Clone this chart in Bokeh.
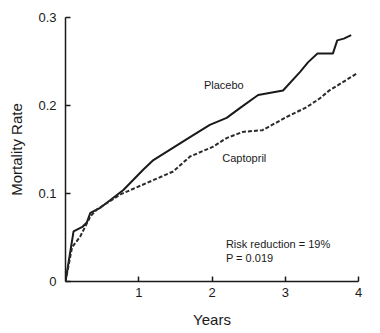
from bokeh.plotting import figure
from bokeh.models import Range1d, Label, FixedTicker
from bokeh.embed import file_html
from bokeh.resources import INLINE

placebo_years = [0, 0.11, 0.23, 0.29, 0.34, 0.48, 0.79, 1.06, 1.2, 1.45, 1.7, 1.97, 2.2, 2.38, 2.63, 2.97, 3.2, 3.31, 3.44, 3.65, 3.71, 3.8, 3.9]
placebo_rate = [0, 0.057, 0.062, 0.067, 0.078, 0.084, 0.104, 0.127, 0.138, 0.151, 0.164, 0.178, 0.186, 0.197, 0.212, 0.217, 0.238, 0.249, 0.259, 0.259, 0.274, 0.276, 0.28]

captopril_years = [0, 0.09, 0.2, 0.34, 0.43, 0.75, 1.11, 1.47, 1.7, 2.01, 2.2, 2.42, 2.69, 3.02, 3.29, 3.47, 3.6, 3.97]
captopril_rate = [0, 0.039, 0.051, 0.074, 0.082, 0.099, 0.112, 0.125, 0.142, 0.153, 0.163, 0.170, 0.172, 0.187, 0.198, 0.208, 0.217, 0.236]

x_ticks = [1, 2, 3, 4]
y_ticks = [0, 0.1, 0.2, 0.3]
y_tick_labels = {0: "0", 0.1: "0.1", 0.2: "0.2", 0.3: "0.3"}

FONT = "Liberation Sans"

p = figure(width=372, height=330, output_backend="svg", toolbar_location=None,
           x_range=Range1d(0, 4), y_range=Range1d(0, 0.3),
           min_border_left=65, min_border_right=14, min_border_top=17, min_border_bottom=48)
p.outline_line_color = None
p.grid.visible = False
p.background_fill_color = "white"
p.border_fill_color = "white"

p.line(placebo_years, placebo_rate, line_color="#1a1a1a", line_width=2)
p.line(captopril_years, captopril_rate, line_color="#2a2a2a", line_width=2, line_dash="4 2")

for ax in (p.xaxis[0], p.yaxis[0]):
    ax.axis_line_color = "#1a1a1a"
    ax.axis_line_width = 1.5
    ax.major_tick_in = 5
    ax.major_tick_out = 0
    ax.minor_tick_line_color = None
    ax.major_tick_line_color = "#1a1a1a"
    ax.major_tick_line_width = 1.5
    ax.major_label_text_font = FONT
    ax.major_label_text_font_size = "13px"
    ax.major_label_text_color = "#1a1a1a"
    ax.axis_label_text_font = FONT
    ax.axis_label_text_font_style = "normal"
    ax.axis_label_text_font_size = "15px"
    ax.axis_label_text_color = "#1a1a1a"

p.xaxis.ticker = FixedTicker(ticks=x_ticks)
p.yaxis.ticker = FixedTicker(ticks=y_ticks)
p.yaxis.major_label_overrides = y_tick_labels
p.xaxis.axis_label = "Years"
p.yaxis.axis_label = "Mortality Rate"
p.xaxis.major_label_standoff = 6
p.yaxis.major_label_standoff = 9
p.xaxis.axis_label_standoff = 11
p.yaxis.axis_label_standoff = 10

def add_label(x, y, text):
    p.add_layout(Label(x=x, y=y, text=text, text_font=FONT, text_font_size="11px",
                       text_color="#1a1a1a", text_baseline="middle"))

add_label(1.89, 0.223, "Placebo")
add_label(2.14, 0.140, "Captopril")
add_label(2.19, 0.043, "Risk reduction = 19%")
add_label(2.19, 0.027, "P = 0.019")

open("out.html", "w").write(file_html(p, INLINE))
